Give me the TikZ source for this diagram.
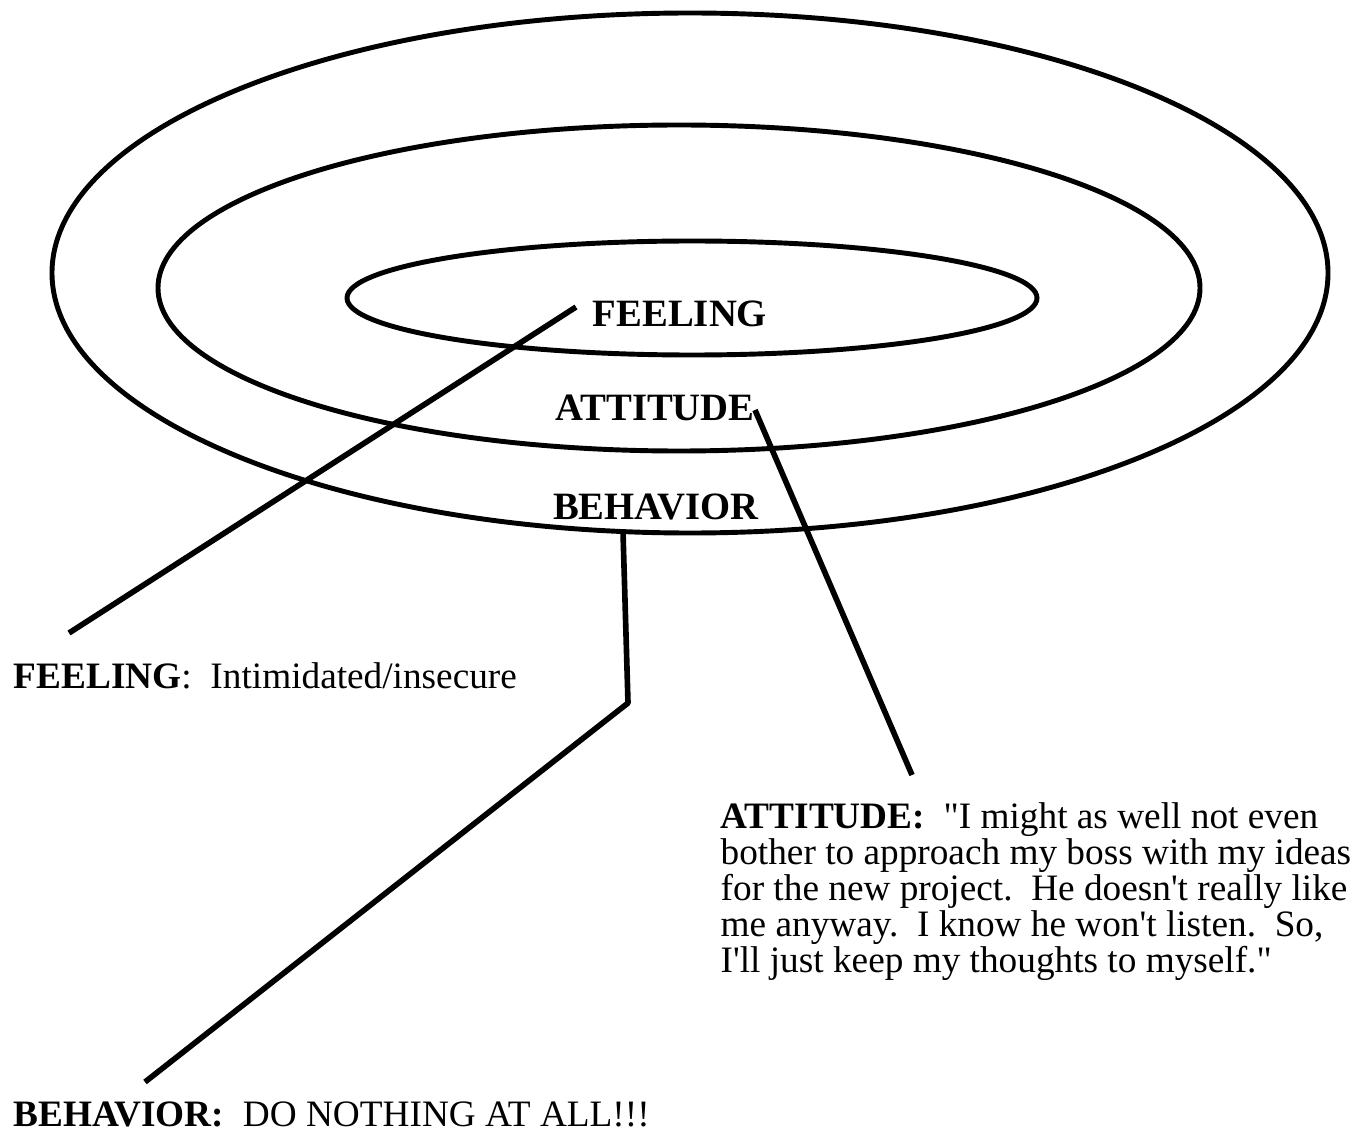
\documentclass[tikz,border=0pt]{standalone}
\usepackage{fontspec}
\setmainfont{Liberation Serif}
\begin{document}
\begin{tikzpicture}[x=0.01cm,y=-0.01cm,
    ring/.style={line width=1.4pt},
    lead/.style={line width=1.6pt,line join=round},
    inlabel/.style={font=\fontsize{11}{13}\selectfont\bfseries,anchor=base,inner sep=0pt},
    note/.style={font=\fontsize{10.6}{10.2}\selectfont,inner sep=0pt}]
  \useasboundingbox (0,0) rectangle (1361,1140);
  % the three rings
  \draw[ring] (690,273) ellipse [x radius=638, y radius=260];
  \draw[ring] (679,288) ellipse [x radius=521, y radius=163];
  \draw[ring] (692,298) ellipse [x radius=345, y radius=57];
  \node[inlabel] (feeling) at (680,327) {FEELING};
  \node[inlabel] (attitude) at (655,420) {ATTITUDE};
  \node[inlabel] (behavior) at (656,519) {BEHAVIOR};
  % notes
  \node[note,anchor=base west] (feelnote) at (13,688)
    {\textbf{FEELING}:\ \ Intimidated/insecure};
  \node[note,anchor=north west,align=left] (attnote) at (720,802)
    {\textbf{ATTITUDE:}\ \ \textquotedbl I might as well not even\\
     bother to approach my boss with my ideas\\
     for the new project.\ \ He doesn\textquotesingle t really like\\
     me anyway.\ \ I know he won\textquotesingle t listen.\ \ So,\\
     I\textquotesingle ll just keep my thoughts to myself.\textquotedbl};
  \node[note,anchor=base west] (behnote) at (13,1126)
    {\textbf{BEHAVIOR:}\ \ DO NOTHING AT ALL!!!};
  \coordinate (f1) at (576,307);
  \coordinate (f2) at (69,633);
  \coordinate (a1) at (755,410);
  \coordinate (a2) at (912,775);
  \coordinate (b1) at (623,532);
  \coordinate (b2) at (628,703);
  \coordinate (b3) at (145,1082);
  \begin{scope}[lead]
    \draw (f1) -- (f2);
    \draw (a1) -- (a2);
    \draw (b1) -- (b2) -- (b3);
  \end{scope}
\end{tikzpicture}
\end{document}
